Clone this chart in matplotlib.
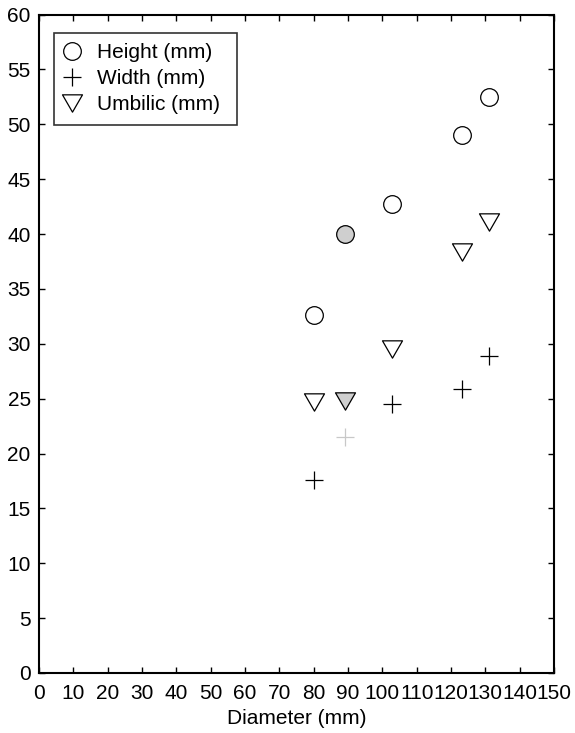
import matplotlib
matplotlib.use("Agg")
import matplotlib.pyplot as plt
from matplotlib.path import Path

diameter = [80, 89, 102.8, 123.1, 131.2]
height = [32.6, 40.0, 42.7, 49.0, 52.5]
width = [17.6, 21.5, 24.5, 25.85, 28.9]
umbilic = [24.7, 24.8, 29.5, 38.4, 41.1]
highlight = 1  # index of grey-marked specimen

plt.rcParams['font.family'] = ['Liberation Sans', 'DejaVu Sans']
fig = plt.figure(figsize=(5.75, 7.33), dpi=100)
ax = fig.add_axes([39 / 575, (733 - 673) / 733, (554 - 39) / 575, (673 - 14.5) / 733])

tri = Path([(-1, 0.866), (1, 0.866), (0, -0.866), (-1, 0.866)],
           [Path.MOVETO, Path.LINETO, Path.LINETO, Path.CLOSEPOLY])

others = [i for i in range(len(diameter)) if i != highlight]
ox = [diameter[i] for i in others]
lw = 0.9

ax.plot(ox, [height[i] for i in others], 'o', ms=12.7, mfc='white', mec='black', mew=lw, label='Height (mm)')
ax.plot(ox, [width[i] for i in others], '+', ms=12.5, color='black', mew=lw, label='Width (mm)')
ax.plot(ox, [umbilic[i] for i in others], marker=tri, ls='none', ms=14.4, mfc='white', mec='black', mew=lw, label='Umbilic (mm)')

ax.plot([diameter[highlight]], [height[highlight]], 'o', ms=12.7, mfc='#cfcfcf', mec='black', mew=lw)
ax.plot([diameter[highlight]], [width[highlight]], '+', ms=12.5, color='#c8c8c8', mew=lw)
ax.plot([diameter[highlight]], [umbilic[highlight]], marker=tri, ls='none', ms=14.4, mfc='#cfcfcf', mec='black', mew=lw)

ax.set_xlim(0, 150)
ax.set_ylim(0, 60)
ax.set_xticks(range(0, 151, 10))
ax.set_yticks(range(0, 61, 5))
ax.tick_params(direction='in', top=True, right=True, labelsize=15, length=4, width=1)
ax.tick_params(axis='x', pad=8)
ax.tick_params(axis='y', pad=6)
for s in ax.spines.values():
    s.set_linewidth(1.5)
ax.set_xlabel('Diameter (mm)', fontsize=15, labelpad=4)

x0 = (54 - 39) / 515
w = (237 - 54) / 515
top = 1 - (33 - 14.5) / 658.5
h = (121 - 33) / 658.5
leg = ax.legend(loc='upper left', fontsize=15, frameon=True, fancybox=False, edgecolor='black',
                handletextpad=0.84, borderpad=0.5, labelspacing=0.33, handlelength=0.73,
                borderaxespad=0, mode='expand', bbox_to_anchor=(x0, top - h, w, h))
leg.get_frame().set_linewidth(1.2)

fig.savefig('out.png', dpi=100)
